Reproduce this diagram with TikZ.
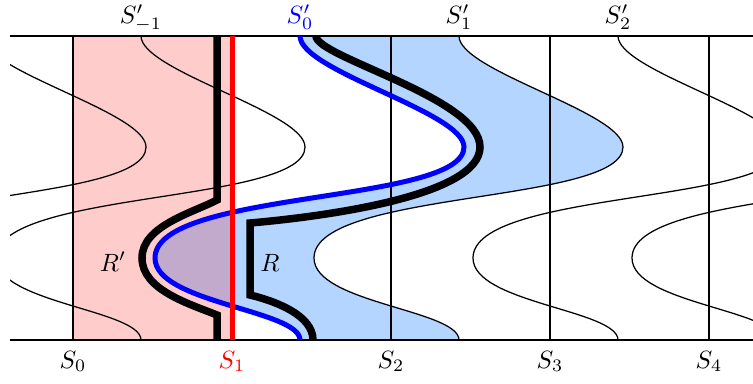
\documentclass[tikz,border=0pt]{standalone}
\usepackage{amsmath,amssymb}
\usepackage{xcolor,tikz}
\definecolor{skyfill}{HTML}{B3D5FF}
\definecolor{pureblue}{HTML}{0000FF}
\definecolor{purered}{HTML}{FF0000}

\begin{document}
\begin{tikzpicture}[x=.4pt,y=-.4pt,
  thinline/.style={line width=.5pt},
  boundline/.style={line width=3pt},
  lbl/.style={anchor=base,inner sep=0pt}]
\useasboundingbox (0,0) rectangle (753,383);
% strip between S'_0 and S'_1
\fill[skyfill] (300,36) .. controls (300,71) and (464,112) .. (464,147)
  .. controls (464,204) and (155,190) .. (155,258)
  .. controls (155,303) and (300,310) .. (300,340) -- (459,340)
  .. controls (459,310) and (314,303) .. (314,258)
  .. controls (314,190) and (623,204) .. (623,147)
  .. controls (623,112) and (459,71) .. (459,36) -- cycle;
% strip between S_0 and S_1
\fill[purered,opacity=.2] (73,36) rectangle (232,340);
\begin{scope}
\clip (10,36) rectangle (753,340);
\foreach \x in {-18,141,300,459,618,777}
  \draw[thinline] (\x,36) .. controls (\x,71) and ({\x+164},112) .. ({\x+164},147)
    .. controls ({\x+164},204) and ({\x-145},190) .. ({\x-145},258)
    .. controls ({\x-145},303) and (\x,310) .. (\x,340);
\end{scope}
\foreach \x in {73,391,550,709}\draw[thinline] (\x,36)--(\x,340);
\draw[thinline] (10,36)--(753,36) (10,340)--(753,340);
% boundaries of R' and R
\draw[boundline] (217,36)--(217,200) .. controls (192,213) and (142,226) .. (142,258)
  .. controls (142,290) and (190,304) .. (217,315)--(217,340);
\draw[boundline] (316,36) .. controls (316,57) and (480,98) .. (480,147)
  .. controls (480,195) and (330,216) .. (250,223)--(250,295)
  .. controls (275,301) and (313,315) .. (313,340);
\draw[pureblue,line width=2pt] (300,36) .. controls (300,71) and (464,112) .. (464,147)
  .. controls (464,204) and (155,190) .. (155,258)
  .. controls (155,303) and (300,310) .. (300,340);
\draw[purered,line width=2pt] (232,36)--(232,340);
% labels
\node[lbl] (spm1) at (141,23.5){$S'_{-1}$};
\node[lbl,text=pureblue] (sp0) at (300,23.5){$S'_0$};
\node[lbl] (sp1) at (459,23.5){$S'_1$};
\node[lbl] (sp2) at (618,23.5){$S'_2$};
\foreach \x/\i in {73/0,391/2,550/3,709/4}\node[lbl] (s\i) at (\x,368){$S_{\i}$};
\node[lbl,text=purered] (s1) at (232,368){$S_1$};
\node[lbl] (rp) at (113,271){$R'$};
\node[lbl] (r) at (270,271){$R$};
\end{tikzpicture}
\end{document}
